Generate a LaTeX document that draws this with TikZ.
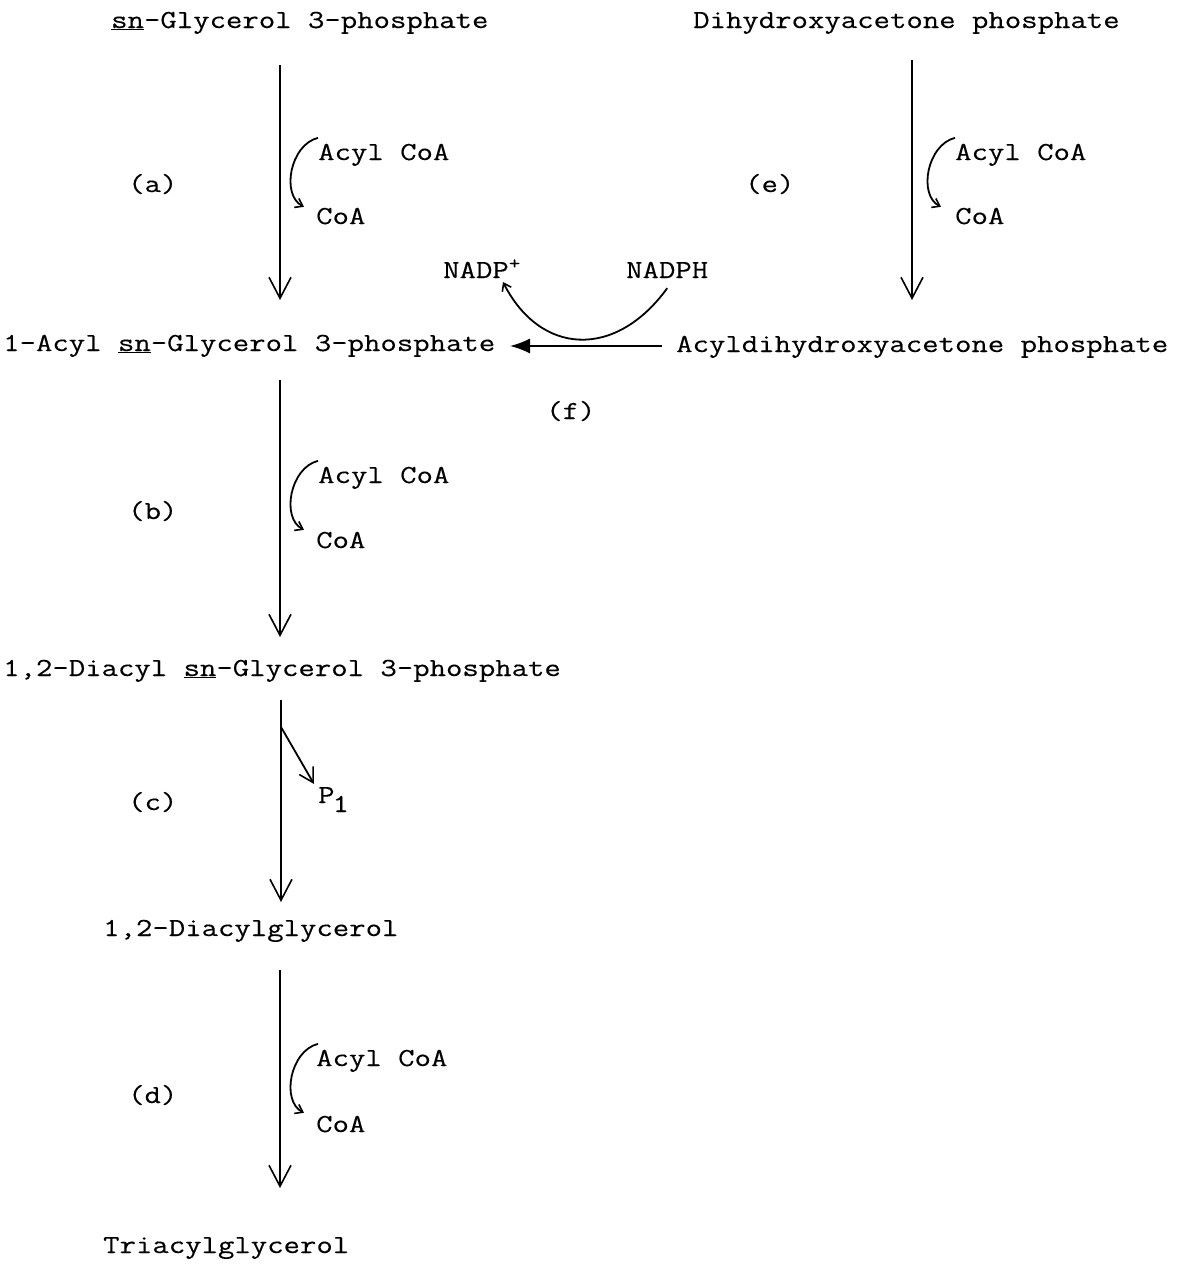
\documentclass[tikz,border=0pt]{standalone}
\usepackage{fontspec}
\setmonofont[FakeStretch=1.225,FakeBold=0.3]{Latin Modern Mono}
\usetikzlibrary{arrows.meta}
\begin{document}
\begin{tikzpicture}[x=1pt,y=-1pt,
  lbl/.style={anchor=base west,inner sep=0pt,font=\ttfamily\fontsize{26}{32}\selectfont},
  rxn/.style={line width=1.8pt,-{Straight Barb[length=21pt,width=22pt,line width=1.6pt]}},
  side/.style={line width=1.8pt,-{Straight Barb[length=7pt,width=10pt,line width=1.6pt]}}]
\useasboundingbox (0,0) rectangle (1177,1269);
% metabolites
\node[lbl] (g3p) at (111,28) {\underline{sn}-Glycerol 3-phosphate};
\node[lbl] (dhap) at (693,28) {Dihydroxyacetone phosphate};
\node[lbl] (acg3p) at (3,351) {1-Acyl \underline{sn}-Glycerol 3-phosphate};
\node[lbl] (adhap) at (676,352) {Acyldihydroxyacetone phosphate};
\node[lbl] (dag3p) at (3,676) {1,2-Diacyl \underline{sn}-Glycerol 3-phosphate};
\node[lbl] (dag) at (103,936) {1,2-Diacylglycerol};
\node[lbl] (tag) at (103,1253) {Triacylglycerol};
% labels
\node[lbl] (la) at (128,192) {(a)};
\node[lbl] (lb) at (128,519) {(b)};
\node[lbl] (lc) at (128,810) {(c)};
\node[lbl] (ld) at (128,1103) {(d)};
\node[lbl] (le) at (745,192) {(e)};
\node[lbl] (lf) at (546,419) {(f)};
% cofactors
\node[lbl] (aa) at (318,160) {Acyl CoA};
\node[lbl] (ca) at (316,224) {CoA};
\node[lbl] (ab) at (318,483) {Acyl CoA};
\node[lbl] (cb) at (316,548) {CoA};
\node[lbl] (ad) at (316,1066) {Acyl CoA};
\node[lbl] (cd) at (316,1132) {CoA};
\node[lbl] (ae) at (955,160) {Acyl CoA};
\node[lbl] (ce) at (955,224) {CoA};
\node[lbl] (nadp) at (443,278) {NADP\textsuperscript{+}};
\node[lbl] (nadph) at (626,278) {NADPH};
\node[lbl] (pi) at (318,803) {P\raisebox{-9pt}{\kern-2pt1}};
% coordinates
\coordinate (a1) at (280,65);  \coordinate (a2) at (280,300);
\coordinate (e1) at (912,60);  \coordinate (e2) at (912,300);
\coordinate (b1) at (280,380); \coordinate (b2) at (280,637);
\coordinate (c1) at (281,700); \coordinate (c2) at (281,902);
\coordinate (cb1) at (281,727); \coordinate (cb2) at (314,784);
\coordinate (d1) at (280,970); \coordinate (d2) at (280,1188);
\coordinate (f1) at (662,346); \coordinate (f2) at (510,346);
% main arrows
\draw[rxn] (a1) -- (a2);
\draw[rxn] (e1) -- (e2);
\draw[rxn] (b1) -- (b2);
\draw[rxn] (c1) -- (c2);
\draw[rxn] (d1) -- (d2);
\draw[line width=1.6pt,-{Latex[length=20pt,width=15pt]}] (f1) -- (f2);
\draw[line width=1.8pt,-{Straight Barb[length=14pt,width=16pt,line width=1.6pt]}] (cb1) -- (cb2);
% side curves
\draw[side] (aa.west) ++(0,-17) .. controls +(-28,7) and +(-23,-12) .. ++(-14,69);
\draw[side] (ab.west) ++(0,-17) .. controls +(-28,7) and +(-23,-12) .. ++(-14,69);
\draw[side] (ad.west) ++(2,-17) .. controls +(-28,7) and +(-23,-12) .. ++(-14,69);
\draw[side] (ae.west) ++(0,-17) .. controls +(-28,7) and +(-23,-12) .. ++(-14,69);
\draw[side] (nadph.south) ++(0,10) .. controls (615,360) and (540,355) .. (503,282);
\end{tikzpicture}
\end{document}
